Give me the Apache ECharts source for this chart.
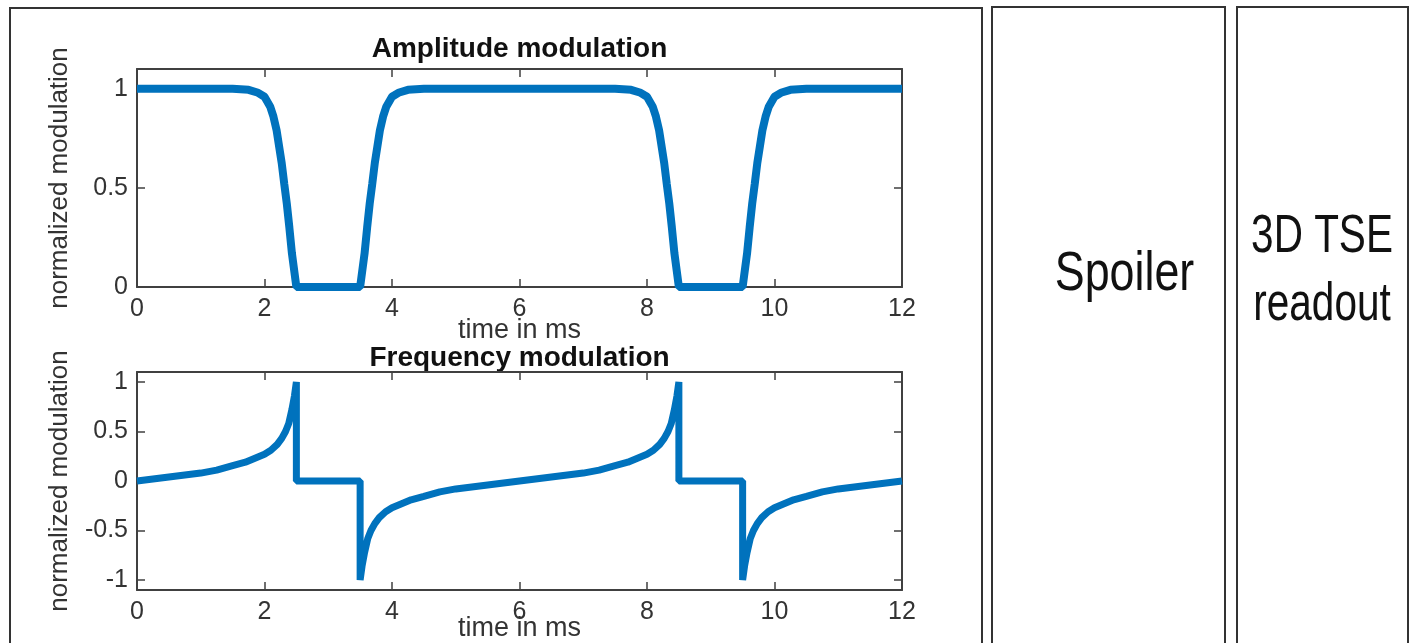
<!DOCTYPE html>
<html>
<head>
<meta charset="utf-8">
<title>Amplitude and frequency modulation</title>
<script src="https://cdn.jsdelivr.net/npm/echarts@6/dist/echarts.min.js"></script>
<style>
  html, body { margin: 0; padding: 0; background: #fff; }
  #chart { width: 1411px; height: 643px; }
</style>
</head>
<body>
<div id="chart"></div>
<script>
// x ticks (time in ms)
const timeTicks = [0, 2, 4, 6, 8, 10, 12]
const amTicks = [0, 0.5, 1]
const fmTicks = [-1, -0.5, 0, 0.5, 1]

// amplitude modulation
const amTime = [
  0, 1.5, 1.75, 1.9, 2.0, 2.09, 2.14, 2.19, 2.27, 2.31, 2.35, 2.39, 2.43, 2.5,
  3.5, 3.57, 3.61, 3.65, 3.69, 3.73, 3.81, 3.86, 3.91, 4.0, 4.1, 4.25, 4.5,
  7.5, 7.75, 7.9, 8.0, 8.09, 8.14, 8.19, 8.27, 8.31, 8.35, 8.39, 8.43, 8.5,
  9.5, 9.57, 9.61, 9.65, 9.69, 9.73, 9.81, 9.86, 9.91, 10.0, 10.1, 10.25, 10.5, 12
]
const amValue = [
  1, 1, 0.995, 0.98, 0.96, 0.91, 0.86, 0.79, 0.625, 0.52, 0.42, 0.3, 0.17, 0,
  0, 0.17, 0.3, 0.42, 0.52, 0.625, 0.79, 0.86, 0.91, 0.96, 0.98, 0.995, 1,
  1, 0.995, 0.98, 0.96, 0.91, 0.86, 0.79, 0.625, 0.52, 0.42, 0.3, 0.17, 0,
  0, 0.17, 0.3, 0.42, 0.52, 0.625, 0.79, 0.86, 0.91, 0.96, 0.98, 0.995, 1, 1
]

// frequency modulation
const fmTime = [
  0, 0.5, 1, 1.25, 1.5, 1.7, 1.85, 2, 2.1, 2.2, 2.27, 2.33, 2.38, 2.43, 2.47, 2.5, 2.5,
  3.5, 3.5, 3.53, 3.57, 3.62, 3.67, 3.73, 3.8, 3.9, 4, 4.15, 4.3, 4.5, 4.75, 5, 5.5,
  6, 6.5, 7, 7.25, 7.5, 7.7, 7.85, 8, 8.1, 8.2, 8.27, 8.33, 8.38, 8.43, 8.47, 8.5, 8.5,
  9.5, 9.5, 9.53, 9.57, 9.62, 9.67, 9.73, 9.8, 9.9, 10, 10.15, 10.3, 10.5, 10.75, 11, 11.5, 12
]
const fmValue = [
  0, 0.04, 0.08, 0.11, 0.155, 0.19, 0.23, 0.27, 0.31, 0.37, 0.43, 0.5, 0.58, 0.72, 0.86, 1, 0,
  0, -1, -0.86, -0.72, -0.58, -0.5, -0.43, -0.37, -0.31, -0.27, -0.23, -0.19, -0.155, -0.11, -0.08, -0.04,
  0, 0.04, 0.08, 0.11, 0.155, 0.19, 0.23, 0.27, 0.31, 0.37, 0.43, 0.5, 0.58, 0.72, 0.86, 1, 0,
  0, -1, -0.86, -0.72, -0.58, -0.5, -0.43, -0.37, -0.31, -0.27, -0.23, -0.19, -0.155, -0.11, -0.08, -0.04, 0
]

const FONT = '"Liberation Sans", Arial, sans-serif'
const AXIS_COLOR = '#404040'
const TEXT_COLOR = '#333'
const LINE_COLOR = '#0072BD'

function axisBase(extra) {
  return Object.assign({
    axisLine: { show: true, onZero: false, lineStyle: { color: AXIS_COLOR, width: 2 } },
    axisTick: { show: true, inside: true, length: 8, lineStyle: { color: AXIS_COLOR, width: 1.5 } },
    splitLine: { show: false }
  }, extra)
}

function xAxes(gridIndex) {
  const labelStyle = { color: TEXT_COLOR, fontSize: 25, fontFamily: FONT, margin: 10 }
  return [
    axisBase({
      type: 'value', gridIndex: gridIndex, position: 'bottom',
      min: 0, max: 12, interval: 2,
      name: 'time in ms', nameLocation: 'middle', nameMoveOverlap: false,
      nameGap: gridIndex === 0 ? 30 : 25,
      nameTextStyle: { color: TEXT_COLOR, fontSize: 27, fontFamily: FONT },
      axisTick: { show: true, inside: true, length: 8, customValues: timeTicks, lineStyle: { color: AXIS_COLOR, width: 1.5 } },
      axisLabel: Object.assign({ customValues: timeTicks }, labelStyle)
    }),
    axisBase({
      type: 'value', gridIndex: gridIndex, position: 'top',
      min: 0, max: 12, interval: 2,
      axisLabel: { show: false }
    })
  ]
}

function yAxes(gridIndex, min, max, ticks) {
  return [
    axisBase({
      type: 'value', gridIndex: gridIndex, position: 'left',
      min: min, max: max,
      name: 'normalized modulation', nameLocation: 'middle', nameMoveOverlap: false, nameGap: 64,
      nameTextStyle: { color: TEXT_COLOR, fontSize: 26, fontFamily: FONT },
      axisTick: { show: true, inside: true, length: 8, customValues: ticks, lineStyle: { color: AXIS_COLOR, width: 1.5 } },
      axisLabel: { color: TEXT_COLOR, fontSize: 25, fontFamily: FONT, margin: 9, customValues: ticks }
    }),
    axisBase({
      type: 'value', gridIndex: gridIndex, position: 'right',
      min: min, max: max,
      axisTick: { show: true, inside: true, length: 8, customValues: ticks, lineStyle: { color: AXIS_COLOR, width: 1.5 } },
      axisLabel: { show: false }
    })
  ]
}

function frame(x, y, w, h) {
  return {
    type: 'rect',
    shape: { x: x, y: y, width: w, height: h },
    style: { fill: 'none', stroke: '#333', lineWidth: 2 }
  }
}

function label(text, x, y, font, color, scaleX) {
  return {
    type: 'text',
    x: x, y: y,
    scaleX: scaleX || 1,
    style: { text: text, font: font, fill: color, align: 'center', verticalAlign: 'middle' }
  }
}

const chart = echarts.init(document.getElementById('chart'))

const option = {
  animation: false,
  backgroundColor: '#fff',
  grid: [
    { left: 137, top: 69, width: 765, height: 218, outerBoundsMode: 'none' },
    { left: 137, top: 372, width: 765, height: 218, outerBoundsMode: 'none' }
  ],
  xAxis: [...xAxes(0), ...xAxes(1)],
  yAxis: [...yAxes(0, 0, 1.1, amTicks), ...yAxes(1, -1.1, 1.1, fmTicks)],
  graphic: [
    frame(10, 8, 972, 660),
    frame(992, 7, 233, 660),
    frame(1237, 7, 171, 660),
    label('Amplitude modulation', 519.5, 49, 'bold 28px ' + FONT, '#111'),
    label('Frequency modulation', 519.5, 358, 'bold 28px ' + FONT, '#111'),
    label('Spoiler', 1124.5, 275, '56px ' + FONT, '#111', 0.8),
    label('3D TSE', 1322, 237, '54px ' + FONT, '#111', 0.75),
    label('readout', 1322, 305, '54px ' + FONT, '#111', 0.75)
  ],
  series: [
    {
      name: 'Amplitude modulation',
      type: 'line',
      xAxisIndex: 0,
      yAxisIndex: 0,
      showSymbol: false,
      lineStyle: { color: LINE_COLOR, width: 8 },
      data: amTime.map((t, i) => [t, amValue[i]])
    },
    {
      name: 'Frequency modulation',
      type: 'line',
      xAxisIndex: 2,
      yAxisIndex: 2,
      showSymbol: false,
      lineStyle: { color: LINE_COLOR, width: 7 },
      data: fmTime.map((t, i) => [t, fmValue[i]])
    }
  ]
}

chart.setOption(option)
</script>
</body>
</html>
